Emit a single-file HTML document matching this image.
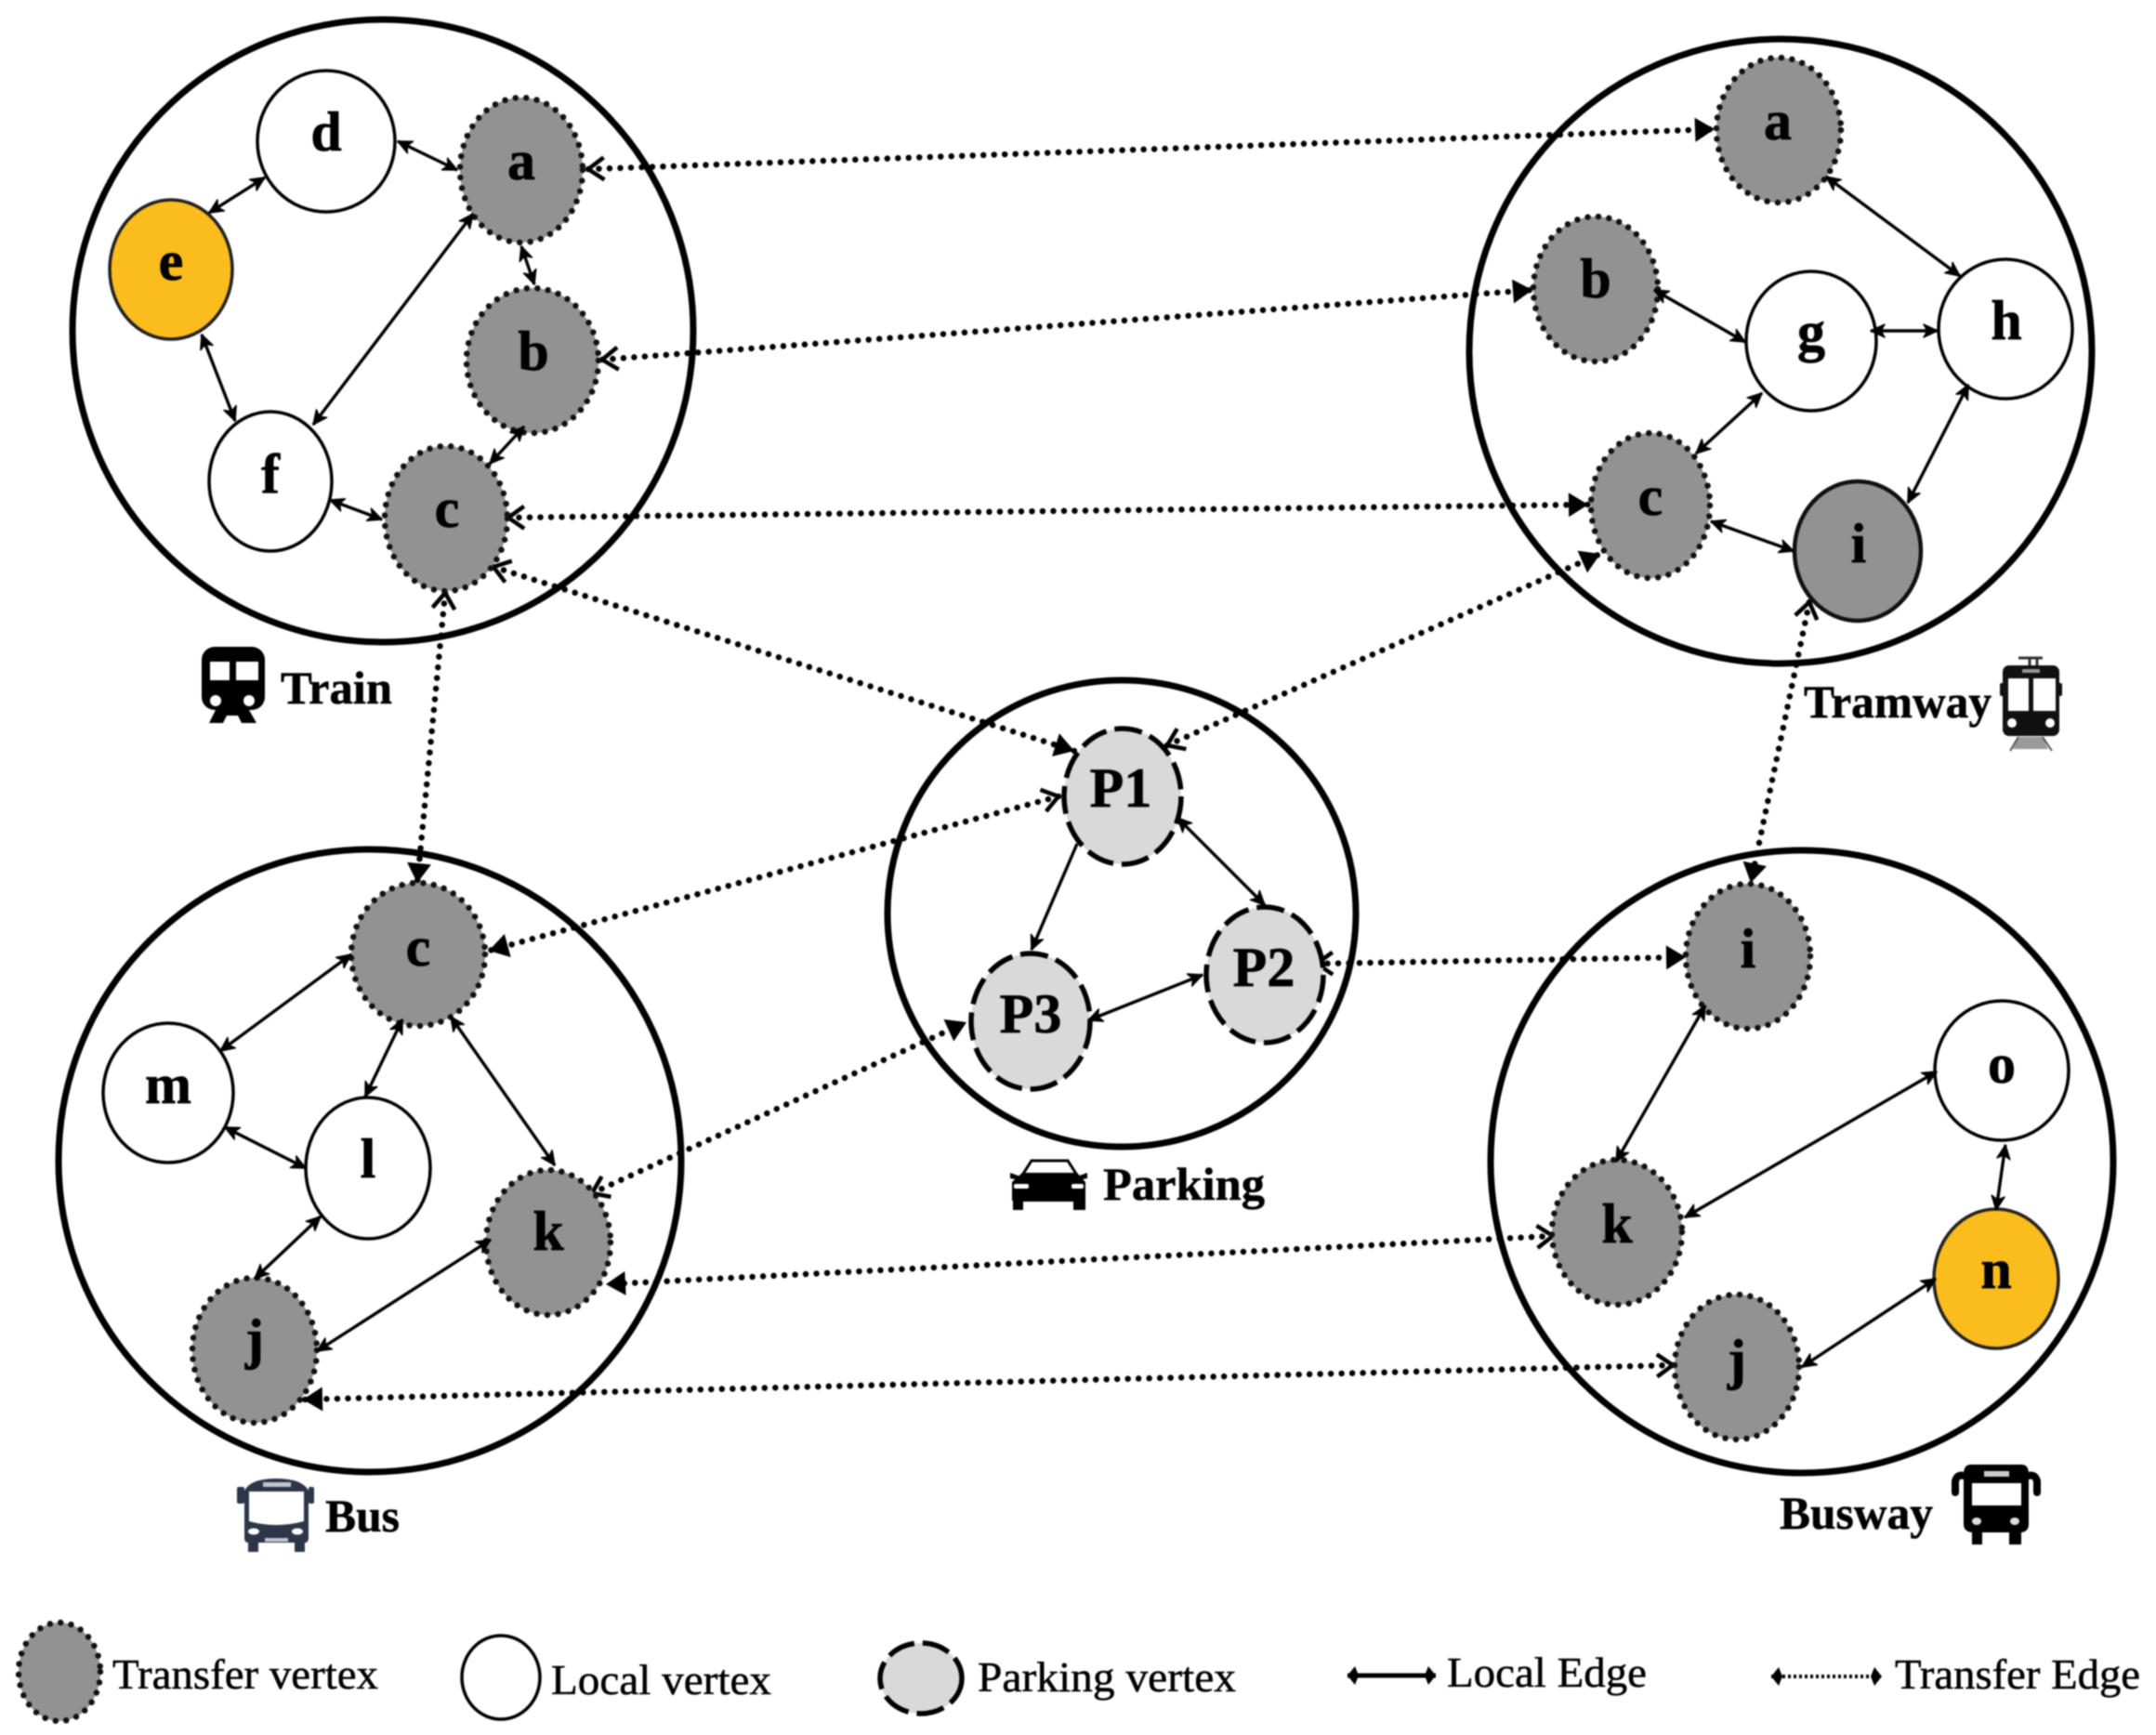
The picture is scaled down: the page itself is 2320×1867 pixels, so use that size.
<!DOCTYPE html>
<html>
<head>
<meta charset="utf-8">
<style>
html,body{margin:0;padding:0;background:#fff;width:2320px;height:1867px;overflow:hidden}
svg{display:block;filter:blur(.7px)}
text{font-family:"Liberation Serif",serif;fill:#000}
.n{font-weight:bold;font-size:60px;text-anchor:middle;stroke:#000;stroke-width:.7}
.t{font-weight:bold;font-size:50px;stroke:#000;stroke-width:.5}
.lg{font-size:46px;stroke:#000;stroke-width:.5}
.big{fill:none;stroke:#000;stroke-width:7}
.tv{fill:#929292;stroke:#111;stroke-width:6.5;stroke-dasharray:0 11.5;stroke-linecap:round}
.lv{fill:#fff;stroke:#000;stroke-width:3.5}
.ov{fill:#fbbc1e;stroke:#222;stroke-width:3.5}
.gv{fill:#929292;stroke:#111;stroke-width:4.5}
.pv{fill:#d9d9d9;stroke:#000;stroke-width:5.5;stroke-dasharray:30 9}
.le{stroke:#000;stroke-width:3.4;fill:none;marker-start:url(#la);marker-end:url(#la)}
.le1{stroke:#000;stroke-width:3.4;fill:none;marker-end:url(#la)}
.te{stroke:#000;stroke-width:6.5;stroke-dasharray:0 11.5;stroke-linecap:round;fill:none;marker-start:url(#to);marker-end:url(#tf)}
</style>
</head>
<body>
<svg width="2320" height="1867" viewBox="0 0 2320 1867" xmlns="http://www.w3.org/2000/svg">
<defs>
<marker id="la" markerUnits="userSpaceOnUse" markerWidth="24" markerHeight="20" refX="20" refY="10" orient="auto-start-reverse" overflow="visible">
<path d="M20,10 L5,3 L9,10 L5,17 Z" fill="#000" stroke="#000" stroke-width="1.5" stroke-linejoin="round"/>
</marker>
<marker id="tf" markerUnits="userSpaceOnUse" markerWidth="30" markerHeight="30" refX="24" refY="15" orient="auto-start-reverse" overflow="visible">
<path d="M24,15 L3,2 L3,28 Z" fill="#000"/>
</marker>
<marker id="to" markerUnits="userSpaceOnUse" markerWidth="30" markerHeight="30" refX="24" refY="15" orient="auto-start-reverse" overflow="visible">
<path d="M24,15 L7,3 M24,15 L7,27" fill="none" stroke="#000" stroke-width="4.5"/>
</marker>
<marker id="dm" markerUnits="userSpaceOnUse" markerWidth="20" markerHeight="24" refX="14" refY="12" orient="auto-start-reverse" overflow="visible">
<path d="M14,12 L6,2 L2,12 L6,22 Z" fill="#000"/>
</marker>
</defs>

<!-- transfer edges -->
<line class="te" x1="633" y1="182" x2="1845" y2="139"/>
<line class="te" x1="648" y1="387" x2="1649" y2="312"/>
<line class="te" x1="547" y1="557" x2="1709" y2="543"/>
<line class="te" x1="531" y1="610" x2="1156" y2="808"/>
<line class="te" x1="479" y1="638" x2="449" y2="950"/>
<line class="te" x1="1256" y1="802" x2="1722" y2="596"/>
<line class="te" x1="1947" y1="648" x2="1884" y2="950"/>
<line class="te" x1="1139" y1="857" x2="526" y2="1023"/>
<line class="te" x1="1417" y1="1037" x2="1814" y2="1030"/>
<line class="te" x1="637" y1="1284" x2="1040" y2="1100"/>
<line class="te" x1="1671" y1="1330" x2="652" y2="1382"/>
<line class="te" x1="1800" y1="1469" x2="326" y2="1506"/>

<!-- group circles -->
<ellipse class="big" cx="412" cy="356" rx="334" ry="335"/>
<ellipse class="big" cx="1916" cy="378" rx="335" ry="336"/>
<ellipse class="big" cx="398" cy="1249" rx="335" ry="335"/>
<ellipse class="big" cx="1939" cy="1250" rx="335" ry="335"/>
<ellipse class="big" cx="1207" cy="983" rx="252" ry="251"/>

<!-- train -->
<ellipse class="lv" cx="351" cy="152" rx="74" ry="76"/>
<ellipse class="tv" cx="561" cy="183" rx="66" ry="78"/>
<ellipse class="ov" cx="184" cy="290" rx="66" ry="75"/>
<ellipse class="tv" cx="573" cy="388" rx="71" ry="78"/>
<ellipse class="lv" cx="291" cy="518" rx="66" ry="75"/>
<ellipse class="tv" cx="480" cy="558" rx="66" ry="78"/>
<line class="le" x1="428" y1="152" x2="492" y2="183"/>
<line class="le" x1="285" y1="191" x2="225" y2="229"/>
<line class="le" x1="561" y1="265" x2="575" y2="306"/>
<line class="le" x1="509" y1="230" x2="337" y2="457"/>
<line class="le" x1="217" y1="360" x2="253" y2="453"/>
<line class="le" x1="564" y1="459" x2="527" y2="499"/>
<line class="le" x1="355" y1="538" x2="411" y2="559"/>
<text class="n" x="351" y="162">d</text>
<text class="n" x="561" y="193">a</text>
<text class="n" x="184" y="301">e</text>
<text class="n" x="574" y="398">b</text>
<text class="n" x="291" y="530">f</text>
<text class="n" x="481" y="567">c</text>

<!-- tramway -->
<ellipse class="tv" cx="1914" cy="140" rx="67" ry="78"/>
<ellipse class="tv" cx="1717" cy="311" rx="67" ry="78"/>
<ellipse class="lv" cx="1949" cy="367" rx="70" ry="75"/>
<ellipse class="lv" cx="2158" cy="354" rx="72" ry="75"/>
<ellipse class="tv" cx="1776" cy="544" rx="64" ry="78"/>
<ellipse class="gv" cx="1999" cy="593" rx="68" ry="75"/>
<line class="le" x1="1965" y1="190" x2="2109" y2="297"/>
<line class="le" x1="1780" y1="312" x2="1878" y2="368"/>
<line class="le" x1="2013" y1="356" x2="2085" y2="356"/>
<line class="le" x1="1896" y1="423" x2="1825" y2="488"/>
<line class="le" x1="2118" y1="414" x2="2053" y2="541"/>
<line class="le" x1="1841" y1="561" x2="1930" y2="593"/>
<text class="n" x="1913" y="150">a</text>
<text class="n" x="1717" y="320">b</text>
<text class="n" x="1949" y="377">g</text>
<text class="n" x="2159" y="365">h</text>
<text class="n" x="1776" y="554">c</text>
<text class="n" x="2000" y="605">i</text>

<!-- parking -->
<ellipse class="pv" cx="1208" cy="857" rx="63" ry="73"/>
<ellipse class="pv" cx="1361" cy="1049" rx="63" ry="73"/>
<ellipse class="pv" cx="1109" cy="1099" rx="64" ry="73"/>
<line class="le1" x1="1159" y1="908" x2="1110" y2="1022"/>
<line class="le" x1="1267" y1="880" x2="1361" y2="974"/>
<line class="le" x1="1171" y1="1098" x2="1294" y2="1049"/>
<text class="n" x="1206" y="868">P1</text>
<text class="n" x="1360" y="1061">P2</text>
<text class="n" x="1109" y="1111">P3</text>

<!-- bus -->
<ellipse class="tv" cx="450" cy="1027" rx="72" ry="77"/>
<ellipse class="lv" cx="181" cy="1176" rx="70" ry="75"/>
<ellipse class="lv" cx="396" cy="1257" rx="67" ry="76"/>
<ellipse class="tv" cx="590" cy="1337" rx="67" ry="78"/>
<ellipse class="tv" cx="274" cy="1453" rx="67" ry="78"/>
<line class="le" x1="378" y1="1027" x2="237" y2="1131"/>
<line class="le" x1="433" y1="1097" x2="393" y2="1180"/>
<line class="le" x1="485" y1="1094" x2="597" y2="1254"/>
<line class="le" x1="242" y1="1213" x2="329" y2="1257"/>
<line class="le" x1="345" y1="1309" x2="274" y2="1376"/>
<line class="le" x1="528" y1="1334" x2="341" y2="1454"/>
<text class="n" x="450" y="1039">c</text>
<text class="n" x="181" y="1187">m</text>
<text class="n" x="396" y="1267">l</text>
<text class="n" x="590" y="1345">k</text>
<text class="n" x="274" y="1461">j</text>

<!-- busway -->
<ellipse class="tv" cx="1881" cy="1029" rx="67" ry="78"/>
<ellipse class="lv" cx="2154" cy="1152" rx="72" ry="75"/>
<ellipse class="tv" cx="1740" cy="1326" rx="70" ry="78"/>
<ellipse class="ov" cx="2148" cy="1376" rx="67" ry="75"/>
<ellipse class="tv" cx="1869" cy="1471" rx="67" ry="78"/>
<line class="le" x1="1835" y1="1082" x2="1739" y2="1250"/>
<line class="le" x1="2084" y1="1153" x2="1813" y2="1310"/>
<line class="le" x1="2158" y1="1232" x2="2148" y2="1302"/>
<line class="le" x1="2083" y1="1376" x2="1939" y2="1471"/>
<text class="n" x="1881" y="1041">i</text>
<text class="n" x="2154" y="1165">o</text>
<text class="n" x="1740" y="1337">k</text>
<text class="n" x="2148" y="1386">n</text>
<text class="n" x="1869" y="1483">j</text>

<!-- titles -->
<text class="t" x="302" y="757" textLength="120" lengthAdjust="spacingAndGlyphs">Train</text>
<text class="t" x="1941" y="772" textLength="202" lengthAdjust="spacingAndGlyphs">Tramway</text>
<text class="t" x="1187" y="1291" textLength="174" lengthAdjust="spacingAndGlyphs">Parking</text>
<text class="t" x="350" y="1648" textLength="80" lengthAdjust="spacingAndGlyphs">Bus</text>
<text class="t" x="1915" y="1645" textLength="165" lengthAdjust="spacingAndGlyphs">Busway</text>

<!-- train icon -->
<rect x="217" y="696" width="68" height="68" rx="14" fill="#000"/>
<rect x="226" y="712" width="21" height="20" fill="#fff"/>
<rect x="254" y="712" width="24" height="20" fill="#fff"/>
<circle cx="232" cy="754" r="6" fill="#fff"/>
<circle cx="268" cy="754" r="6" fill="#fff"/>
<path d="M232,764 L225,778 L240,778 L244,770 L256,770 L260,778 L276,778 L268,764 Z" fill="#000"/>

<!-- tram icon -->
<path d="M2172,708 H2198 M2184,708 V716 M2192,708 V716" stroke="#333" stroke-width="3" fill="none"/>
<rect x="2155" y="716" width="61" height="76" rx="7" fill="#111"/>
<rect x="2152" y="735" width="5" height="14" rx="2" fill="#111"/>
<rect x="2214" y="735" width="5" height="14" rx="2" fill="#111"/>
<rect x="2176" y="720" width="19" height="4" fill="#999"/>
<rect x="2161" y="730" width="22" height="35" fill="#fff"/>
<rect x="2188" y="730" width="24" height="35" fill="#fff"/>
<circle cx="2165" cy="778" r="5" fill="#fff"/>
<circle cx="2206" cy="778" r="5" fill="#fff"/>
<path d="M2172,793 H2198 L2204,806 H2166 Z" fill="#999"/>
<path d="M2172,793 L2163,808 M2198,793 L2208,808" stroke="#555" stroke-width="2"/>

<!-- car icon -->
<path d="M1101,1263 L1110,1249 H1149 L1158,1263" fill="#fff" stroke="#000" stroke-width="3"/>
<path d="M1089,1272 L1100,1262 H1159 L1168,1272 V1292 H1168 V1302 H1155 V1293 H1101 V1302 H1090 V1292 H1089 Z" fill="#000"/>
<path d="M1087,1262 L1098,1266 V1270 L1087,1268 Z M1170,1262 L1159,1266 V1270 L1170,1268 Z" fill="#000"/>
<rect x="1091" y="1274" width="16" height="5" rx="2" fill="#fff"/>
<rect x="1153" y="1274" width="13" height="5" rx="2" fill="#fff"/>

<!-- bus icon -->
<path d="M263,1604 Q270,1591 297,1591 Q325,1591 332,1604 V1655 Q332,1660 328,1660 V1670 H317 V1660 H278 V1670 H267 V1660 Q263,1660 263,1655 Z" fill="#2d3648"/>
<rect x="255" y="1600" width="8" height="18" rx="2" fill="#2d3648"/>
<rect x="332" y="1600" width="6" height="18" rx="2" fill="#2d3648"/>
<path d="M268,1605 H327 V1637 Q297,1645 268,1637 Z" fill="#fff"/>
<rect x="283" y="1595" width="30" height="5" fill="#c0c4cc"/>
<ellipse cx="273" cy="1648" rx="6" ry="3.5" fill="#fff"/>
<ellipse cx="320" cy="1648" rx="6" ry="3.5" fill="#fff"/>
<rect x="285" y="1655" width="25" height="4" fill="#c0c4cc"/>

<!-- busway icon -->
<path d="M2121,1576 H2175 Q2183,1576 2183,1586 V1640 Q2183,1648 2175,1649 V1662 H2162 V1649 H2133 V1662 H2122 V1649 Q2113,1648 2113,1640 V1586 Q2113,1576 2121,1576 Z" fill="#000"/>
<path d="M2113,1588 Q2106,1586 2104,1594 V1606 M2183,1588 Q2190,1586 2192,1594 V1606" fill="none" stroke="#000" stroke-width="8" stroke-linecap="round"/>
<rect x="2122" y="1596" width="53" height="24" fill="#fff"/>
<rect x="2135" y="1583" width="27" height="6" fill="#ccc"/>
<ellipse cx="2127" cy="1637" rx="5" ry="4" fill="#ddd"/>
<ellipse cx="2168" cy="1637" rx="5" ry="4" fill="#ddd"/>

<!-- legend -->
<ellipse class="tv" cx="64" cy="1799" rx="44" ry="53"/>
<text class="lg" x="121" y="1817" textLength="286" lengthAdjust="spacingAndGlyphs">Transfer vertex</text>
<ellipse class="lv" cx="539" cy="1805" rx="42" ry="45"/>
<text class="lg" x="593" y="1823" textLength="237" lengthAdjust="spacingAndGlyphs">Local vertex</text>
<ellipse class="pv" cx="991" cy="1806" rx="44" ry="38"/>
<text class="lg" x="1052" y="1820" textLength="278" lengthAdjust="spacingAndGlyphs">Parking vertex</text>
<line x1="1450" y1="1803" x2="1545" y2="1803" stroke="#000" stroke-width="5" marker-start="url(#dm)" marker-end="url(#dm)"/>
<text class="lg" x="1557" y="1815" textLength="215" lengthAdjust="spacingAndGlyphs">Local Edge</text>
<line x1="1906" y1="1804" x2="2025" y2="1804" stroke="#000" stroke-width="4" stroke-dasharray="3 3" marker-start="url(#dm)" marker-end="url(#dm)"/>
<text class="lg" x="2039" y="1817" textLength="264" lengthAdjust="spacingAndGlyphs">Transfer Edge</text>
</svg>
</body>
</html>
